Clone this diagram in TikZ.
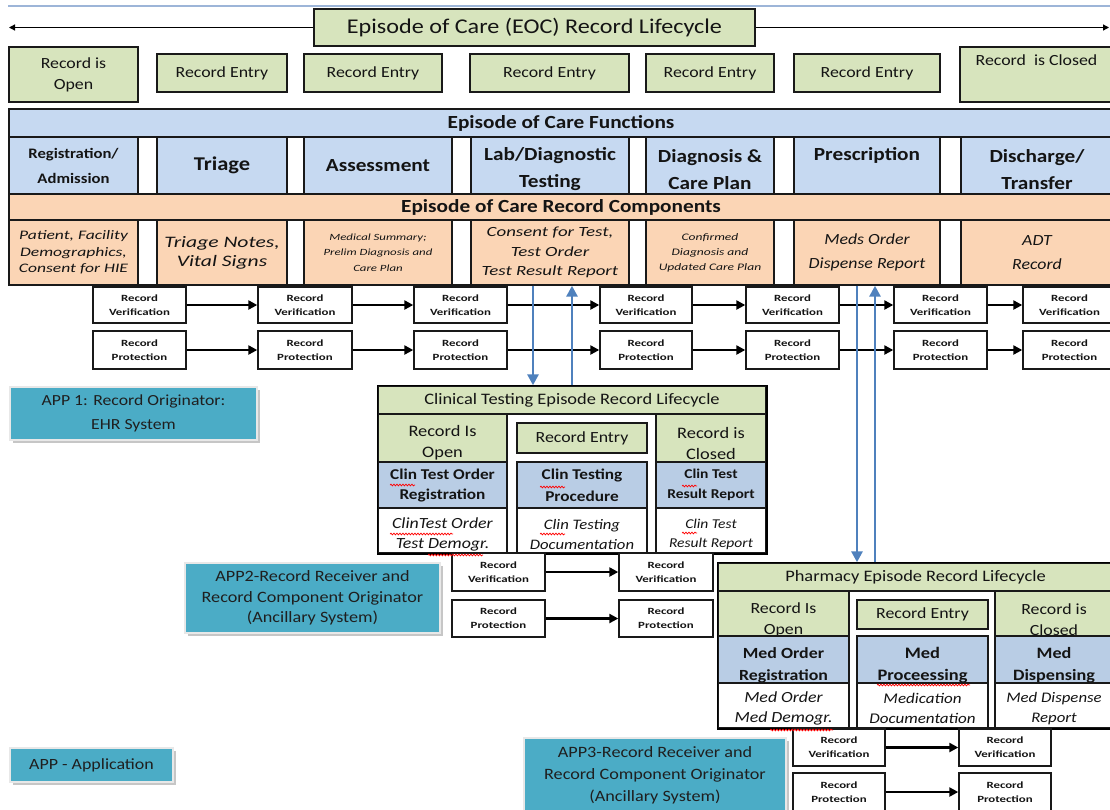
\documentclass[tikz,border=0pt]{standalone}
\usepackage{fontspec}
\setmainfont[FakeStretch=1.15]{Carlito}
\newfontfamily\wf[FakeStretch=1.35]{Carlito}
\usetikzlibrary{arrows.meta,shadows,decorations.pathmorphing,calc}
\definecolor{cgreen}{HTML}{D7E4BD}
\definecolor{cblue}{HTML}{C6D9F1}
\definecolor{cblue2}{HTML}{B9CDE5}
\definecolor{corange}{HTML}{FBD5B5}
\definecolor{cteal}{HTML}{4BACC6}
\definecolor{carrow}{HTML}{4F81BD}
\definecolor{cline}{HTML}{9DB5D8}
\newcommand\fs[2]{\fontsize{#1}{#2}\selectfont}
\newcommand\bx[7]{%
  \pgfmathsetmacro\bxw{#5-#3}\pgfmathsetmacro\bxh{#6-#4}%
  \pgfmathsetmacro\bxx{(#3+#5)/2}\pgfmathsetmacro\bxy{(#4+#6)/2}%
  \node[#1, minimum width=\bxw pt, minimum height=\bxh pt, anchor=center] (#2) at (\bxx,\bxy) {#7};}
\newcommand\tx[5]{\node[align=center, inner sep=0pt, text=black!92, font=#2] (#1) at ([yshift=-#3pt]#4.center) {#5};}
\begin{document}
\begin{tikzpicture}[x=1pt,y=-1pt,
  bxs/.style={draw=black!90, line width=1.4pt, inner sep=0pt, align=center, text=black!92},
  grn/.style={bxs, fill=cgreen},
  blu/.style={bxs, fill=cblue},
  blu2/.style={bxs, fill=cblue2},
  org/.style={bxs, fill=corange},
  wht/.style={bxs, fill=white},
  vp/.style={bxs, fill=white, font=\wf\bfseries\fs{9.5}{14}},
  app/.style={fill=cteal, draw=white!82!gray, line width=1.2pt, inner sep=0pt, align=center, text=black!88,
     drop shadow={fill=gray, opacity=0.45, shadow xshift=3pt, shadow yshift=-3pt}},
  tarrow/.style={line width=1.2pt, -{Triangle[length=6pt,width=6pt]}},
  karrow/.style={line width=2.6pt, -{Triangle[length=9pt,width=9pt]}},
  barrow/.style={draw=carrow, line width=2.8pt, -{Triangle[length=11pt,width=11pt]}, fill=carrow},
  sq/.style={draw=red, line width=0.7pt, decorate, decoration={snake, amplitude=0.9pt, segment length=3pt}}
]
\useasboundingbox (0,0) rectangle (1110,809);

% top line and title
\draw[cline, line width=1.2pt] (8,6) -- (1110,6);
\bx{grn, line width=1.5pt, font=\fs{21}{25}}{title}{314}{9}{755}{46}{Episode of Care (EOC) Record Lifecycle}
\coordinate (tl) at (9,27);
\coordinate (tr) at (1109,27);
\draw[tarrow] (title.west) -- (title.west -| tl);
\draw[tarrow] (title.east) -- (title.east -| tr);

% green row
\bx{grn, line width=1.6pt, font=\fs{15.5}{21}}{open}{9}{47}{138}{102}{Record is\\Open}
\bx{grn, line width=1.6pt, font=\fs{15.5}{19}}{e1}{157}{54}{287}{92}{Record Entry}
\bx{grn, line width=1.6pt, font=\fs{15.5}{19}}{e2}{304}{54}{442}{92}{Record Entry}
\bx{grn, line width=1.6pt, font=\fs{15.5}{19}}{e3}{470}{54}{629}{92}{Record Entry}
\bx{grn, line width=1.6pt, font=\fs{15.5}{19}}{e4}{646}{54}{774}{92}{Record Entry}
\bx{grn, line width=1.6pt, font=\fs{15.5}{19}}{e5}{794}{54}{940}{92}{Record Entry}
\bx{grn, line width=1.6pt, font=\fs{15.5}{22}}{closed}{960}{47}{1113}{102}{Record~ is Closed\\\strut}

% functions table
\bx{blu, font=\bfseries\fs{18.5}{22}}{fhead}{9}{109}{1113}{137}{Episode of Care Functions}
\bx{blu, font=\bfseries\fs{14.5}{25}}{f1}{9}{137}{138}{194}{Registration/\\Admission}
\bx{wht}{g1}{138}{137}{157}{194}{}
\bx{blu, font=\bfseries\fs{19.5}{24}}{f2}{157}{137}{287}{194}{Triage}
\bx{wht}{g2}{287}{137}{304}{194}{}
\bx{blu, font=\bfseries\fs{18.5}{24}}{f3}{304}{137}{452}{194}{Assessment}
\bx{wht}{g3}{452}{137}{471}{194}{}
\bx{blu}{f4}{471}{137}{629}{194}{}
\tx{f4t}{\bfseries\fs{18.5}{27}}{4}{f4}{Lab/Diagnostic\\Testing}
\bx{wht}{g4}{629}{137}{646}{194}{}
\bx{blu}{f5}{646}{137}{774}{194}{}
\tx{f5t}{\bfseries\fs{18.5}{27}}{4}{f5}{Diagnosis \&\\Care Plan}
\bx{wht}{g5}{774}{137}{794}{194}{}
\bx{blu}{f6}{794}{137}{940}{194}{}
\tx{f6t}{\bfseries\fs{18.5}{27}}{6}{f6}{Prescription\\\strut}
\bx{wht}{g6}{940}{137}{961}{194}{}
\bx{blu}{f7}{961}{137}{1113}{194}{}
\tx{f7t}{\bfseries\fs{18.5}{27}}{4}{f7}{Discharge/\\Transfer}

% components
\bx{org, font=\bfseries\fs{18.5}{22}}{chead}{9}{194}{1113}{220}{Episode of Care Record Components}
\bx{org, font=\wf\itshape\fs{13}{16.5}}{c1}{9}{220}{138}{285}{Patient, Facility\\Demographics,\\Consent for HIE}
\bx{wht}{h1}{138}{220}{157}{285}{}
\bx{org, font=\wf\itshape\fs{16}{19}}{c2}{157}{220}{287}{285}{Triage Notes,\\Vital Signs}
\bx{wht}{h2}{287}{220}{304}{285}{}
\bx{org, font=\wf\itshape\fs{9.5}{15.5}}{c3}{304}{220}{452}{285}{Medical Summary;\\Prelim Diagnosis and\\Care Plan}
\bx{wht}{h3}{452}{220}{471}{285}{}
\bx{org, font=\wf\itshape\fs{14}{19.5}}{c4}{471}{220}{629}{285}{Consent for Test,\\Test Order\\Test Result Report}
\bx{wht}{h4}{629}{220}{646}{285}{}
\bx{org, font=\wf\itshape\fs{10}{15}}{c5}{646}{220}{774}{285}{Confirmed\\Diagnosis and\\Updated Care Plan}
\bx{wht}{h5}{774}{220}{794}{285}{}
\bx{org, font=\itshape\fs{15.5}{24}}{c6}{794}{220}{940}{285}{Meds Order\\Dispense Report}
\bx{wht}{h6}{940}{220}{961}{285}{}
\bx{org, font=\itshape\fs{15.5}{24}}{c7}{961}{220}{1113}{285}{ADT\\Record}

% verification / protection rows (APP1)
\bx{vp}{v1}{93}{287}{186}{323}{Record\\Verification}
\bx{vp}{v2}{258}{287}{352}{323}{Record\\Verification}
\bx{vp}{v3}{414}{287}{507}{323}{Record\\Verification}
\bx{vp}{v4}{600}{287}{692}{323}{Record\\Verification}
\bx{vp}{v5}{746}{287}{839}{323}{Record\\Verification}
\bx{vp}{v6}{894}{287}{987}{323}{Record\\Verification}
\bx{vp}{v7}{1023}{287}{1116}{323}{Record\\Verification}
\bx{vp}{p1}{93}{331}{186}{369}{Record\\Protection}
\bx{vp}{p2}{258}{331}{352}{369}{Record\\Protection}
\bx{vp}{p3}{414}{331}{507}{369}{Record\\Protection}
\bx{vp}{p4}{600}{331}{692}{369}{Record\\Protection}
\bx{vp}{p5}{746}{331}{839}{369}{Record\\Protection}
\bx{vp}{p6}{894}{331}{987}{369}{Record\\Protection}
\bx{vp}{p7}{1023}{331}{1116}{369}{Record\\Protection}
\foreach \i/\j in {1/2,2/3,3/4,4/5,5/6,6/7}{
  \draw[karrow] (v\i) -- (v\j);
  \draw[karrow] (p\i) -- (p\j);
}

% APP boxes
\bx{app, font=\fs{15.4}{24}}{app1}{10}{387}{257}{440}{APP 1: Record Originator:\\EHR System}
\bx{app, font=\fs{15.8}{20.5}}{app2}{185}{563}{440}{633}{APP2-Record Receiver and\\Record Component Originator\\(Ancillary System)}
\bx{app, font=\fs{15.6}{19}}{appa}{10}{748}{173}{782}{APP - Application}
\bx{app, font=\fs{15.8}{22}}{app3}{524}{738}{786}{812}{APP3-Record Receiver and\\Record Component Originator\\(Ancillary System)}

% clinical testing lifecycle
\bx{grn, font=\fs{16}{20}}{ct}{378}{386}{766}{414}{Clinical Testing Episode Record Lifecycle}
\bx{wht}{ctmid}{507}{414}{656}{553}{}
\bx{grn}{ctopen}{378}{414}{507}{462}{}
\tx{ctopent}{\fs{16}{21}}{5}{ctopen}{Record Is\\Open}
\bx{grn, font=\fs{15.5}{19}}{ctentry}{517}{423}{647}{453}{Record Entry}
\bx{grn}{ctclosed}{656}{414}{766}{462}{}
\tx{ctclosedt}{\fs{16}{21}}{5}{ctclosed}{Record is\\Closed}
\bx{blu2, font=\bfseries\fs{15}{20}}{ctb1}{378}{462}{507}{508}{Clin Test Order\\Registration}
\bx{blu2, font=\bfseries\fs{15}{22}}{ctb2}{517}{462}{647}{508}{Clin Testing\\Procedure}
\bx{blu2, font=\bfseries\fs{13.5}{20}}{ctb3}{656}{462}{766}{508}{Clin Test\\Result Report}
\bx{wht}{ctw1}{378}{508}{507}{553}{}
\tx{ctw1t}{\itshape\fs{15.5}{20}}{4}{ctw1}{ClinTest Order\\Test Demogr.}
\bx{wht}{ctw2}{517}{508}{647}{553}{}
\tx{ctw2t}{\itshape\fs{14.5}{20}}{4}{ctw2}{Clin Testing\\Documentation}
\bx{wht}{ctw3}{656}{508}{766}{553}{}
\tx{ctw3t}{\itshape\fs{13.5}{19}}{4}{ctw3}{Clin Test\\Result Report}
\draw[line width=1.6pt] (ct.north west) rectangle (ctw3.south east);

% APP2 verification / protection
\bx{vp}{av1}{452}{553}{545}{591}{Record\\Verification}
\bx{vp}{av2}{619}{553}{713}{591}{Record\\Verification}
\bx{vp}{ap1}{452}{600}{545}{637}{Record\\Protection}
\bx{vp}{ap2}{619}{600}{713}{637}{Record\\Protection}
\draw[karrow] (av1) -- (av2);
\draw[karrow] (ap1) -- (ap2);

% pharmacy lifecycle
\bx{grn, font=\fs{16}{20}}{ph}{718}{563}{1113}{591}{Pharmacy Episode Record Lifecycle}
\bx{wht}{phmid}{849}{591}{995}{728}{}
\bx{grn}{phopen}{718}{591}{849}{636}{}
\tx{phopent}{\fs{15.5}{21}}{6}{phopen}{Record Is\\Open}
\bx{grn, font=\fs{15.5}{19}}{phentry}{857}{600}{988}{629}{Record Entry}
\bx{grn}{phclosed}{995}{591}{1113}{636}{}
\tx{phclosedt}{\fs{15.5}{21}}{6}{phclosed}{Record is\\Closed}
\bx{blu2}{phb1}{718}{636}{849}{683}{}
\tx{phb1t}{\bfseries\fs{15.5}{22}}{6}{phb1}{Med Order\\Registration}
\bx{blu2}{phb2}{857}{636}{988}{683}{}
\tx{phb2t}{\bfseries\fs{16}{22}}{6}{phb2}{Med\\Proceessing}
\bx{blu2}{phb3}{995}{636}{1113}{683}{}
\tx{phb3t}{\bfseries\fs{15.8}{22}}{6}{phb3}{Med\\Dispensing}
\bx{wht}{phw1}{718}{683}{849}{728}{}
\tx{phw1t}{\itshape\fs{15.5}{20}}{3}{phw1}{Med Order\\Med Demogr.}
\bx{wht}{phw2}{857}{683}{988}{728}{}
\tx{phw2t}{\itshape\fs{14.8}{20}}{3}{phw2}{Medication\\Documentation}
\bx{wht}{phw3}{995}{683}{1113}{728}{}
\tx{phw3t}{\itshape\fs{14.6}{20}}{3}{phw3}{Med Dispense\\Report}
\draw[line width=1.6pt] (ph.north west) rectangle (phw3.south east);

% APP3 verification / protection
\bx{vp}{bv1}{793}{729}{885}{766}{Record\\Verification}
\bx{vp}{bv2}{959}{729}{1051}{766}{Record\\Verification}
\bx{vp}{bp1}{793}{773}{885}{811}{Record\\Protection}
\bx{vp}{bp2}{959}{773}{1051}{811}{Record\\Protection}
\draw[karrow] (bv1) -- (bv2);
\draw[karrow] (bp1) -- (bp2);

% blue exchange arrows
\draw[barrow] ([xshift=-17pt]c4.south) -- ([xshift=-17pt]c4.south |- ct.north);
\draw[barrow] (ct.north) -- (ct.north |- c4.south);
\draw[barrow] ([xshift=-10pt]c6.south) -- ([xshift=-10pt]c6.south |- ph.north);
\draw[barrow] ([xshift=8pt]c6.south |- ph.north) -- ([xshift=8pt]c6.south);

% spell-check underlines
\draw[sq] (390,485) -- (415,485);
\draw[sq] (540,487) -- (565,487);
\draw[sq] (682,486) -- (697,486);
\draw[sq] (390,534) -- (453,534);
\draw[sq] (428,555) -- (483,555);
\draw[sq] (540,534) -- (565,534);
\draw[sq] (682,533) -- (697,533);
\draw[sq] (877,685) -- (970,685);
\draw[sq] (770,730) -- (833,730);
\end{tikzpicture}
\end{document}
